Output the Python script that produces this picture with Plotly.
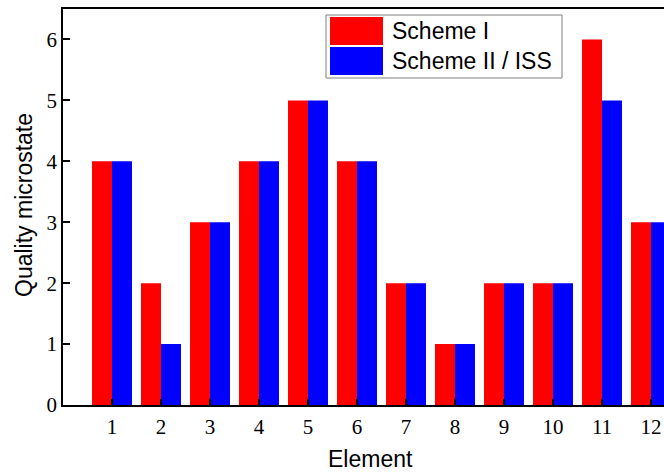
import plotly.graph_objects as go

categories = [str(i) for i in range(1, 13)]
scheme_1 = [4, 2, 3, 4, 5, 4, 2, 1, 2, 2, 6, 3]
scheme_2 = [4, 1, 3, 4, 5, 4, 2, 1, 2, 2, 5, 3]
y_ticks = [0, 1, 2, 3, 4, 5, 6]
series_names = ["Scheme I", "Scheme II / ISS"]
colors = ["#ff0000", "#0000ff"]

W, H = 664, 472
L, R, T, B = 63, 0, 9, 67
pw, ph = W - L - R, H - T - B
xs = list(range(1, 13))

def px(x):
    return (x - L) / pw

def py(y):
    return (H - B - y) / ph

fig = go.Figure()
for name, vals, c in zip(series_names, [scheme_1, scheme_2], colors):
    fig.add_trace(go.Bar(x=xs, y=vals, name=name, marker=dict(color=c, line=dict(width=0)),
                         showlegend=False, hoverinfo="skip"))

shapes = []
annotations = []
# legend box
shapes.append(dict(type="rect", xref="paper", yref="paper", x0=px(326), x1=px(562), y0=py(78), y1=py(15),
                   line=dict(color="#808080", width=1), fillcolor="white", layer="above"))
for i, (name, c) in enumerate(zip(series_names, colors)):
    top = 17 + i * 30
    shapes.append(dict(type="rect", xref="paper", yref="paper", x0=px(330), x1=px(383), y0=py(top + 28), y1=py(top),
                       line=dict(width=0), fillcolor=c, layer="above"))
    annotations.append(dict(xref="paper", yref="paper", x=px(390), y=py(top + 14), text=name, showarrow=False,
                            xanchor="left", yanchor="middle",
                            font=dict(family="Liberation Sans, Arial", size=23, color="black")))

annotations.append(dict(xref="paper", yref="paper", x=px(370), y=py(459), text="Element", showarrow=False,
                        xanchor="center", yanchor="middle",
                        font=dict(family="Liberation Sans, Arial", size=23, color="black")))
annotations.append(dict(xref="paper", yref="paper", x=px(24), y=py(205), text="Quality microstate", showarrow=False,
                        xanchor="center", yanchor="middle", textangle=-90,
                        font=dict(family="Liberation Sans, Arial", size=23, color="black")))

fig.update_layout(
    width=W, height=H,
    margin=dict(l=L, r=R, t=T, b=B),
    paper_bgcolor="white", plot_bgcolor="white",
    barmode="group", bargap=0.184, bargroupgap=0,
    shapes=shapes, annotations=annotations,
    xaxis=dict(range=[0, pw / 49.0], tickvals=xs, ticktext=categories,
               showline=True, linecolor="black", linewidth=1.5, mirror=True,
               ticks="inside", ticklen=6, tickwidth=2, tickcolor="black",
               showgrid=False, zeroline=False, ticklabelstandoff=2,
               tickfont=dict(family="Liberation Serif, Times New Roman", size=21, color="black")),
    yaxis=dict(range=[0, 6.5], tickvals=y_ticks, ticktext=[str(v) for v in y_ticks],
               showline=True, linecolor="black", linewidth=1.5, mirror=False,
               ticks="inside", ticklen=7, tickwidth=1.5, tickcolor="black",
               showgrid=False, zeroline=False, ticklabelstandoff=0,
               tickfont=dict(family="Liberation Serif, Times New Roman", size=21, color="black")),
)

fig.write_html("out.html", config={"displayModeBar": False},
               post_script="document.body.style.margin='0';document.body.style.padding='0';"
                           "document.body.style.overflow='hidden';")
